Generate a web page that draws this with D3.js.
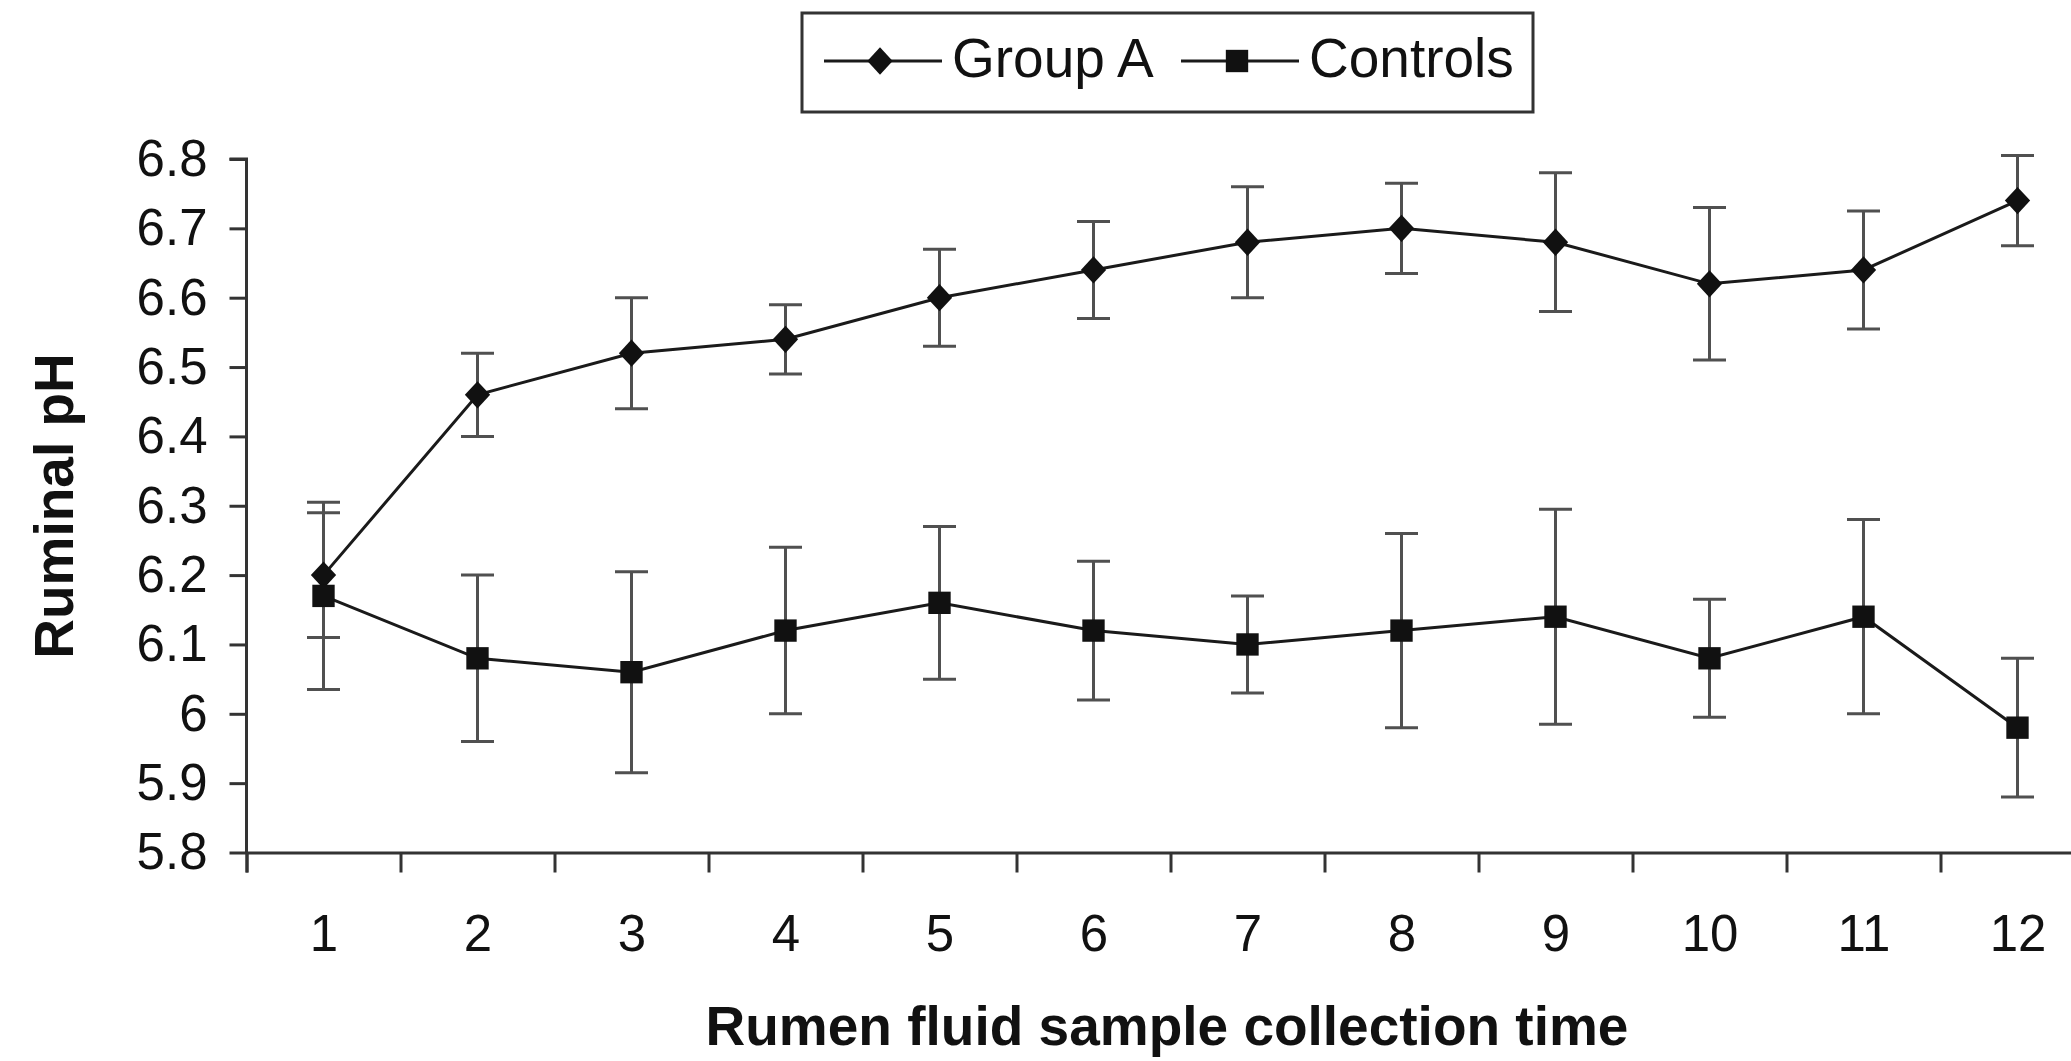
<!DOCTYPE html>
<html>
<head>
<meta charset="utf-8">
<script src="https://cdn.jsdelivr.net/npm/d3@7"></script>
<style>
  html, body { margin: 0; padding: 0; background: #fff; }
  svg { display: block; }
  text { font-family: "Liberation Sans", Arial, Helvetica, sans-serif; fill: #111; }
</style>
</head>
<body>
<svg id="chart" width="2071" height="1061"></svg>
<script>
// sample collection times
const times = [1, 2, 3, 4, 5, 6, 7, 8, 9, 10, 11, 12];

// ruminal pH, means and error bar half-widths
const groupA   = [6.20, 6.46, 6.52, 6.54, 6.60, 6.64, 6.68, 6.70, 6.68, 6.62, 6.64, 6.74];
const groupAsd = [0.09, 0.06, 0.08, 0.05, 0.07, 0.07, 0.08, 0.065, 0.10, 0.11, 0.085, 0.065];
const controls   = [6.17, 6.08, 6.06, 6.12, 6.16, 6.12, 6.10, 6.12, 6.14, 6.08, 6.14, 5.98];
const controlsSd = [0.135, 0.12, 0.145, 0.12, 0.11, 0.10, 0.07, 0.14, 0.155, 0.085, 0.14, 0.10];

const yTicks = [5.8, 5.9, 6.0, 6.1, 6.2, 6.3, 6.4, 6.5, 6.6, 6.7, 6.8];

const svg = d3.select("#chart");

const plotLeft = 246.5, plotTop = 159, plotBottom = 852.5;
const band = 154;

// categories sit in the middle of equal bands, ticks fall between them
const x = d3.scaleLinear().domain([0.5, 12.5]).range([plotLeft, plotLeft + 12 * band]);
const y = d3.scaleLinear().domain([5.8, 6.8]).range([plotBottom, plotTop]);

// wide diamond like the excel marker (d3's own is too narrow)
const wideDiamond = {
  draw(ctx, size) {
    const w = Math.sqrt(size) / 2, h = w * 1.08;
    ctx.moveTo(0, -h); ctx.lineTo(w, 0); ctx.lineTo(0, h); ctx.lineTo(-w, 0); ctx.closePath();
  }
};

const series = [
  { name: "Group A", values: groupA, sd: groupAsd, shape: wideDiamond, size: 640 },
  { name: "Controls", values: controls, sd: controlsSd, shape: d3.symbolSquare, size: 500 }
];

// axes
const yAxis = svg.append("g")
  .attr("transform", `translate(${plotLeft},0)`)
  .call(d3.axisLeft(y).tickValues(yTicks).tickSize(17).tickPadding(22)
    .tickFormat(d => String(+d.toFixed(1))));

const xTickAxis = svg.append("g")
  .attr("transform", `translate(0,${plotBottom})`)
  .call(d3.axisBottom(x).tickValues(d3.range(0.5, 12, 1)).tickSize(20).tickFormat(""));

const xLabelAxis = svg.append("g")
  .attr("transform", `translate(0,${plotBottom})`)
  .call(d3.axisBottom(x).tickValues(times).tickSize(0).tickPadding(62).tickFormat(d3.format("d")));
xLabelAxis.select(".domain").remove();

[yAxis, xTickAxis, xLabelAxis].forEach(g => {
  g.selectAll(".domain").attr("stroke", "#333").attr("stroke-width", 3);
  g.selectAll(".tick line").attr("stroke", "#333").attr("stroke-width", 3);
  g.selectAll("text").attr("font-size", 51).attr("fill", "#111");
});
yAxis.select(".domain").attr("d", `M-17,${plotTop}H0V${plotBottom}`);

// error bars
const capW = 16.5;
series.forEach(s => {
  const g = svg.append("g").attr("stroke", "#505050").attr("stroke-width", 3).attr("fill", "none");
  times.forEach((t, i) => {
    const cx = x(t), hi = y(s.values[i] + s.sd[i]), lo = y(s.values[i] - s.sd[i]);
    g.append("path").attr("d", `M${cx},${hi}V${lo}M${cx - capW},${hi}H${cx + capW}M${cx - capW},${lo}H${cx + capW}`);
  });
});

// lines and markers
const line = d3.line().x((d, i) => x(times[i])).y(d => y(d));
series.forEach(s => {
  svg.append("path")
    .datum(s.values)
    .attr("d", line)
    .attr("fill", "none")
    .attr("stroke", "#1a1a1a")
    .attr("stroke-width", 3);

  svg.append("g").selectAll("path")
    .data(s.values)
    .join("path")
    .attr("transform", (d, i) => `translate(${x(times[i])},${y(d)})`)
    .attr("d", d3.symbol().type(s.shape).size(s.size))
    .attr("fill", "#111");
});

// axis titles
svg.append("text")
  .attr("x", 1167).attr("y", 1045)
  .attr("text-anchor", "middle")
  .attr("font-size", 55).attr("font-weight", "bold")
  .text("Rumen fluid sample collection time");

svg.append("text")
  .attr("transform", "translate(73,506) rotate(-90)")
  .attr("text-anchor", "middle")
  .attr("font-size", 55).attr("font-weight", "bold")
  .text("Ruminal pH");

// legend
const legend = svg.append("g");
legend.append("rect")
  .attr("x", 802).attr("y", 13).attr("width", 731).attr("height", 99)
  .attr("fill", "#fff").attr("stroke", "#333").attr("stroke-width", 3);

const legendX = [824, 1181];
series.forEach((s, i) => {
  const lx = legendX[i], ly = 61;
  legend.append("line")
    .attr("x1", lx).attr("x2", lx + 118).attr("y1", ly).attr("y2", ly)
    .attr("stroke", "#1a1a1a").attr("stroke-width", 3);
  legend.append("path")
    .attr("transform", `translate(${lx + 56},${ly})`)
    .attr("d", d3.symbol().type(s.shape).size(s.size))
    .attr("fill", "#111");
  legend.append("text")
    .attr("x", lx + 128).attr("y", 77)
    .attr("font-size", 55)
    .text(s.name);
});
</script>
</body>
</html>
